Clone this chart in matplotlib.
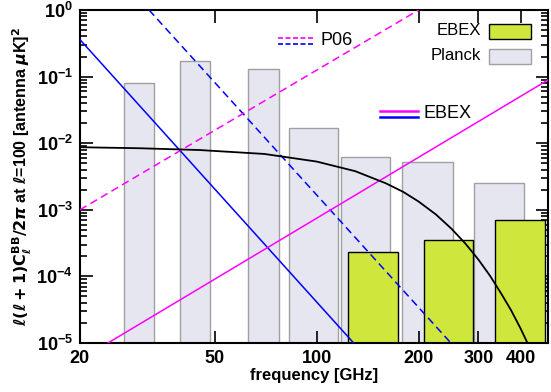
import numpy as np
import matplotlib
matplotlib.use('Agg')
import matplotlib.pyplot as plt
from matplotlib.patches import Rectangle
from matplotlib.ticker import LogLocator, NullLocator, FixedLocator, NullFormatter

# Planck bands: low edge, high edge (GHz), level
planck_lo = [27, 39.4, 62.6, 83, 118, 179, 291]
planck_hi = [33, 48.4, 77.3, 116, 165, 252, 408]
planck_val = [0.08, 0.17, 0.13, 0.0168, 0.0062, 0.0052, 0.0025]

# EBEX bands
ebex_lo = [124, 207, 337]
ebex_hi = [174, 289, 471]
ebex_val = [2.3e-4, 3.5e-4, 7.0e-4]

# CMB BB at l=100 (antenna temperature)
cmb_freq = [20, 30, 45, 70, 100, 130, 160, 180, 200, 225, 250, 275, 300, 325, 350, 375, 400, 430]
cmb_val = [0.0087, 0.0084, 0.0079, 0.0069, 0.0053, 0.0038, 0.0025, 0.00186, 0.00133,
           0.00085, 0.00052, 0.00031, 0.00018, 0.000102, 5.6e-5, 3.1e-5, 1.65e-5, 7.6e-6]

# foreground lines (end points)
ebex_sync_f, ebex_sync_v = [20, 128.6], [0.36, 1e-5]
p06_sync_f, p06_sync_v = [32, 249], [1.0, 1e-5]
p06_dust_f, p06_dust_v = [20, 200], [1e-3, 1.0]
ebex_dust_f, ebex_dust_v = [24.2, 480], [1e-5, 0.088]

xticks = [20, 50, 100, 200, 300, 400]

GREEN = '#cfe63c'
LAV = '#e6e6f0'
MAG = '#ff00ff'
BLUE = '#0000ff'

plt.rcParams['font.family'] = ['Liberation Sans', 'DejaVu Sans']
plt.rcParams['mathtext.fontset'] = 'dejavusans'

fig = plt.figure(figsize=(5.51, 3.92), dpi=100)
ax = fig.add_axes([0.145, 0.125, 0.8496, 0.8495])
ax.set_xscale('log')
ax.set_yscale('log')
ax.set_xlim(20, 482)
ax.set_ylim(1e-5, 1.0)

for lo, hi, v in zip(planck_lo, planck_hi, planck_val):
    ax.add_patch(Rectangle((lo, 1e-6), hi - lo, v - 1e-6, facecolor=LAV,
                           edgecolor='#a0a0a0', lw=1.0, zorder=1))
for lo, hi, v in zip(ebex_lo, ebex_hi, ebex_val):
    ax.add_patch(Rectangle((lo, 1e-6), hi - lo, v - 1e-6, facecolor=GREEN,
                           edgecolor='black', lw=1.0, zorder=2))

ax.plot(ebex_sync_f, ebex_sync_v, color=BLUE, lw=1.1, zorder=3)
ax.plot(p06_sync_f, p06_sync_v, color=BLUE, lw=1.1, ls=(0, (5, 3)), zorder=3)
ax.plot(p06_dust_f, p06_dust_v, color=MAG, lw=1.1, ls=(0, (5, 3)), zorder=3)
ax.plot(ebex_dust_f, ebex_dust_v, color=MAG, lw=1.1, zorder=3)
ax.plot(cmb_freq, cmb_val, color='black', lw=1.3, zorder=4)

# custom legend entries
tr = ax.transAxes
ax.plot([0.424, 0.503], [0.917, 0.917], color=MAG, lw=1.2, ls=(0, (3, 1.5)), transform=tr, zorder=5)
ax.plot([0.424, 0.503], [0.898, 0.898], color=BLUE, lw=1.2, ls=(0, (3, 1.5)), transform=tr, zorder=5)
ax.text(0.513, 0.907, 'P06', transform=tr, fontsize=13, va='center', ha='left')
ax.plot([0.642, 0.723], [0.698, 0.698], color=MAG, lw=1.8, transform=tr, zorder=5)
ax.plot([0.642, 0.723], [0.678, 0.678], color=BLUE, lw=1.8, transform=tr, zorder=5)
ax.text(0.733, 0.688, 'EBEX', transform=tr, fontsize=13, va='center', ha='left')

ax.text(0.857, 0.937, 'EBEX', transform=tr, fontsize=12, va='center', ha='right')
ax.add_patch(Rectangle((0.873, 0.913), 0.09, 0.046, transform=tr, facecolor=GREEN,
                       edgecolor='black', lw=1.0, zorder=5))
ax.text(0.857, 0.862, 'Planck', transform=tr, fontsize=12, va='center', ha='right')
ax.add_patch(Rectangle((0.873, 0.838), 0.09, 0.046, transform=tr, facecolor=LAV,
                       edgecolor='#a0a0a0', lw=1.0, zorder=5))

ax.xaxis.set_major_locator(FixedLocator(xticks))
ax.xaxis.set_minor_locator(NullLocator())
ax.set_xticklabels([str(t) for t in xticks])
ax.yaxis.set_major_locator(LogLocator(base=10, numticks=10))
ax.yaxis.set_minor_locator(LogLocator(base=10, subs=np.arange(2, 10), numticks=10))
ax.yaxis.set_minor_formatter(NullFormatter())

ax.tick_params(which='both', direction='in', top=True, right=True, width=1.2)
ax.tick_params(which='major', length=9, labelsize=13, pad=5)
ax.tick_params(which='minor', length=5)
for lab in ax.get_xticklabels() + ax.get_yticklabels():
    lab.set_fontweight('bold')
for s in ax.spines.values():
    s.set_linewidth(1.5)

ax.set_xlabel('frequency [GHz]', fontsize=12, fontweight='bold', labelpad=1)
ylab = (r'$\boldsymbol{\ell(\ell+1)}\mathbf{C}_{\boldsymbol{\ell}}^{\mathbf{BB}}\mathbf{/2}\boldsymbol{\pi}$'
        r' at $\boldsymbol{\ell}$=100 [antenna $\boldsymbol{\mu}$K]$^{\mathbf{2}}$')
ax.set_ylabel(ylab, fontsize=11.5, fontweight='bold', labelpad=2)

fig.savefig('out.png', dpi=100)
